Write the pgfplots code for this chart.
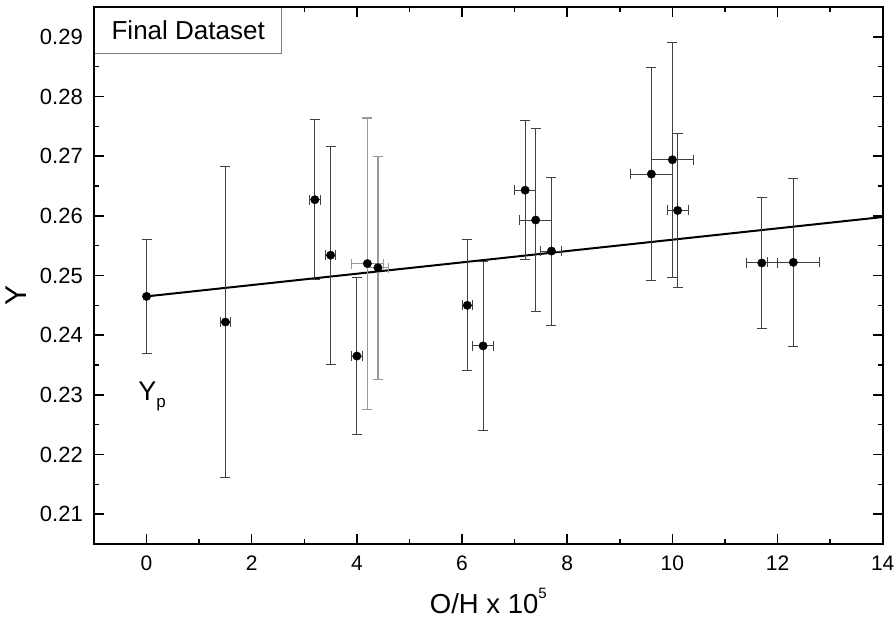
\documentclass[border=0pt]{standalone}
\usepackage{fontspec}
\setmainfont{Liberation Sans}
\usepackage{pgfplots}
\pgfplotsset{compat=1.18}

\pgfplotstableread{
x     y       ex    ey
1.5   0.2422  0.10  0.0261
3.2   0.2627  0.10  0.0134
3.5   0.2534  0.10  0.0183
4.0   0.2365  0.10  0.0131
6.1   0.2450  0.10  0.0110
6.4   0.2382  0.20  0.0142
7.2   0.2643  0.20  0.0117
7.4   0.2593  0.30  0.0153
7.7   0.2541  0.20  0.0124
9.6   0.2670  0.40  0.0178
10.0  0.2694  0.40  0.0197
10.1  0.2609  0.20  0.0129
11.7  0.2521  0.30  0.0110
12.3  0.2522  0.50  0.0141
}\darkpts

\pgfplotstableread{
x     y       ex    ey
4.2   0.2520  0.30  0.0244
4.4   0.2513  0.20  0.0187
}\lightpts

\begin{document}
\begin{tikzpicture}[x=1pt,y=1pt]
\path[use as bounding box] (-94,-75) rectangle (802,544);
\begin{axis}[
  at={(0,0)}, anchor=south west,
  scale only axis, width=788.7pt, height=537pt,
  xmin=-1, xmax=14, ymin=0.205, ymax=0.295,
  xtick={0,2,...,14}, minor x tick num=1,
  ytick={0.21,0.22,...,0.29}, minor y tick num=1,
  tick align=inside,
  major tick length=10pt, minor tick length=5pt,
  axis line style={line width=2pt},
  every tick/.style={black, line width=1.5pt},
  /pgf/number format/assume math mode=true,
  yticklabel style={/pgf/number format/fixed, /pgf/number format/fixed zerofill,
    /pgf/number format/precision=2, font=\fontsize{22}{24}\selectfont,
    anchor=east, inner sep=0pt, xshift=-11pt},
  xticklabel style={font=\fontsize{21}{24}\selectfont, anchor=base, inner sep=0pt, yshift=-26.7pt},
  xlabel={O/H x 10\raisebox{15pt}{\fontsize{15}{15}\selectfont 5}},
  xlabel style={font=\fontsize{27.5}{30}\selectfont, at={(axis description cs:0.5,-0.129)}, anchor=base},
  ylabel={Y},
  ylabel style={font=\fontsize{30}{32}\selectfont, at={(axis description cs:-0.0862,0.4637)}, anchor=base},
  clip=false,
]
\addplot[black, line width=2pt] coordinates {(0,0.2465) (14,0.2598)};

\addplot[black!75, only marks, mark=*, mark size=4.2pt,
  mark options={black, fill=black},
  error bars/.cd, x dir=both, x explicit, y dir=both, y explicit,
  error bar style={line width=1pt, black!75},
  error mark options={rotate=90, mark size=5pt, line width=1pt, black!75}]
  table[x=x, y=y, x error=ex, y error=ey] {\darkpts};

\addplot[black!45, only marks, mark=*, mark size=4.2pt,
  mark options={black, fill=black},
  error bars/.cd, x dir=both, x explicit, y dir=both, y explicit,
  error bar style={line width=1.5pt, black!40},
  error mark options={rotate=90, mark size=5pt, line width=1.2pt, black!40}]
  table[x=x, y=y, x error=ex, y error=ey] {\lightpts};

\addplot[black!75, only marks, mark=*, mark size=4.2pt,
  mark options={black, fill=black},
  error bars/.cd, y dir=both, y explicit,
  error bar style={line width=1pt, black!75},
  error mark options={rotate=90, mark size=5pt, line width=1pt, black!75}]
  coordinates {(0,0.2465) +- (0,0.0096)};

\node[font=\fontsize{27}{30}\selectfont, anchor=base west, inner sep=0pt]
  at (axis cs:-0.16,0.2290) {Y\raisebox{-7pt}{\fontsize{17}{17}\selectfont p}};

\node[name=fdbox, fill=white, anchor=north west, inner sep=0pt,
  minimum width=186pt, minimum height=45pt,
  font=\fontsize{26}{28}\selectfont, xshift=1pt, yshift=-1pt]
  at (rel axis cs:0,1) {Final Dataset};
\end{axis}
\draw[black!50, line width=1.2pt] (fdbox.north east) -- (fdbox.south east) -- (fdbox.south west);
\end{tikzpicture}
\end{document}
